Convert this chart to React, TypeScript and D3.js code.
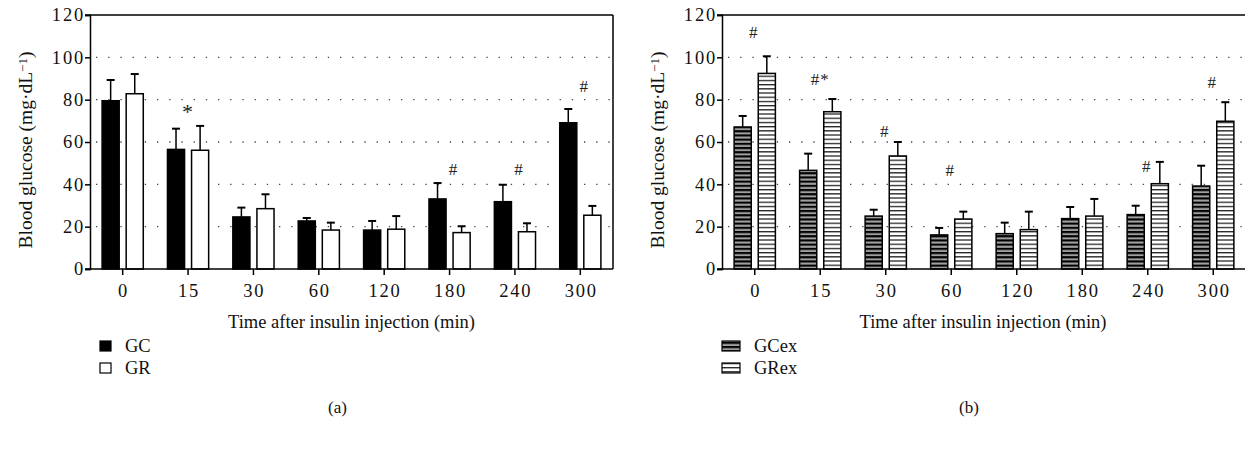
import { useRef, useEffect } from 'react'
import * as d3 from 'd3'

const times = ['0', '15', '30', '60', '120', '180', '240', '300']
const yTicks = [0, 20, 40, 60, 80, 100, 120]

// panel (a)
const gcMean = [79.5, 56.5, 24.6, 22.7, 18.4, 33.1, 31.8, 69.1]
const gcErr = [9.8, 9.8, 4.4, 1.4, 4.3, 7.5, 8.0, 6.5]
const grMean = [82.8, 56.1, 28.5, 18.4, 18.8, 17.2, 17.6, 25.4]
const grErr = [9.3, 11.5, 6.8, 3.5, 6.2, 3.0, 4.0, 4.4]
const annotA = ['15', '180', '240', '300']
const annotTextA = ['*', '#', '#', '#']
const annotLevelA = [77.5, 47.2, 47.2, 86.5]

// panel (b)
const gcexMean = [67.1, 46.6, 25.0, 16.1, 16.7, 23.8, 25.7, 39.2]
const gcexErr = [5.2, 7.9, 3.0, 3.3, 5.2, 5.5, 4.2, 9.6]
const grexMean = [92.4, 74.3, 53.4, 23.6, 18.6, 25.0, 40.3, 69.8]
const grexErr = [8.1, 6.0, 6.6, 3.5, 8.5, 8.1, 10.3, 9.0]
const annotB = ['0', '15', '30', '60', '240', '300']
const annotTextB = ['#', '#*', '#', '#', '#', '#']
const annotLevelB = [112.1, 89.8, 65.3, 46.8, 48.8, 88.5]

const FONT = "'Liberation Serif', 'Times New Roman', serif"

const drawPanel = (svg, opt) => {
  const { left, right, top, bottom, series, annCats, annText, annLevel, annDx, legend, letter } = opt
  const g = svg.append('g')
  const y = d3.scaleLinear().domain([0, 120]).range([bottom, top])
  const x0 = d3.scaleBand().domain(times).range([left, right]).paddingInner(0.37).paddingOuter(0.185)
  const x1 = d3.scaleBand().domain(series.map((s) => s.name)).range([0, x0.bandwidth()]).paddingInner(0.29)

  // dotted grid
  g.selectAll('line.grid')
    .data(yTicks.filter((t) => t > 0 && t < 120))
    .join('line')
    .attr('x1', left + 6)
    .attr('x2', right)
    .attr('y1', (d) => y(d))
    .attr('y2', (d) => y(d))
    .attr('stroke', '#444')
    .attr('stroke-width', 1.3)
    .attr('stroke-dasharray', '1.3,10.9')

  // bars
  series.forEach((s) => {
    const bg = g.append('g')
    bg.selectAll('rect')
      .data(s.mean)
      .join('rect')
      .attr('x', (d, i) => x0(times[i]) + x1(s.name))
      .attr('y', (d) => y(d))
      .attr('width', x1.bandwidth())
      .attr('height', (d) => y(0) - y(d))
      .attr('fill', s.fill)
      .attr('stroke', '#000')
      .attr('stroke-width', 1.5)
    const cx = (i) => x0(times[i]) + x1(s.name) + x1.bandwidth() / 2
    bg.selectAll('line.err')
      .data(s.mean)
      .join('line')
      .attr('x1', (d, i) => cx(i))
      .attr('x2', (d, i) => cx(i))
      .attr('y1', (d) => y(d))
      .attr('y2', (d, i) => y(d + s.err[i]))
      .attr('stroke', '#000')
      .attr('stroke-width', 1.5)
    bg.selectAll('line.cap')
      .data(s.mean)
      .join('line')
      .attr('x1', (d, i) => cx(i) - 4)
      .attr('x2', (d, i) => cx(i) + 4)
      .attr('y1', (d, i) => y(d + s.err[i]))
      .attr('y2', (d, i) => y(d + s.err[i]))
      .attr('stroke', '#000')
      .attr('stroke-width', 2)
  })

  // frame
  g.append('line').attr('x1', left - 5).attr('x2', right).attr('y1', top).attr('y2', top).attr('stroke', '#000').attr('stroke-width', 1.5)
  g.append('line').attr('x1', right).attr('x2', right).attr('y1', top).attr('y2', bottom).attr('stroke', '#000').attr('stroke-width', 1.5)

  // axes
  const yAxis = g.append('g').attr('transform', `translate(${left},0)`)
    .call(d3.axisLeft(y).tickValues(yTicks).tickSize(5).tickPadding(0))
  const xAxis = g.append('g').attr('transform', `translate(0,${bottom})`)
    .call(d3.axisBottom(x0).tickSize(6).tickPadding(9))
  ;[yAxis, xAxis].forEach((a) => {
    a.select('.domain').attr('stroke', '#000').attr('stroke-width', 1.5)
    a.selectAll('.tick line').attr('stroke', '#000').attr('stroke-width', 1.5)
    a.selectAll('text').attr('fill', '#111').style('font-family', FONT).style('font-size', '18.5px').style('letter-spacing', '1.8px')
  })
  xAxis.selectAll('text').attr('dx', '0.9')
  xAxis.select('.domain').attr('d', `M${left - 5},0H${right}`)

  // annotations
  g.selectAll('text.ann')
    .data(annCats)
    .join('text')
    .attr('x', (d, i) => x0(d) + x0.bandwidth() / 2 + (annText[i] === '#' ? annDx : 0))
    .attr('y', (d, i) => y(annLevel[i]))
    .attr('dy', (d, i) => (annText[i] === '*' ? '0.62em' : '0.35em'))
    .attr('text-anchor', 'middle')
    .style('font-family', FONT)
    .style('font-size', (d, i) => (annText[i] === '*' ? '22px' : '17px'))
    .style('letter-spacing', '1px')
    .attr('fill', '#222')
    .text((d, i) => annText[i])

  // y title
  const yt = g.append('text')
    .attr('transform', `translate(${left - 58},${(top + bottom) / 2 + 8}) rotate(-90)`)
    .attr('text-anchor', 'middle')
    .style('font-family', FONT)
    .style('font-size', '19.5px')
    .attr('fill', '#111')
  yt.append('tspan').text('Blood glucose (mg·dL')
  yt.append('tspan').attr('baseline-shift', '35%').style('font-size', '13px').text('−1')
  yt.append('tspan').text(')')

  // x title
  const mid = (left + Math.min(right, 1244)) / 2
  g.append('text')
    .attr('x', mid)
    .attr('y', 328)
    .attr('text-anchor', 'middle')
    .style('font-family', FONT)
    .style('font-size', '18.5px')
    .attr('fill', '#111')
    .text('Time after insulin injection (min)')

  // legend
  const lg = g.append('g').attr('transform', `translate(${legend.x},346)`)
  series.forEach((s, i) => {
    lg.append('rect')
      .attr('x', 0)
      .attr('y', i * 22 - 5)
      .attr('width', legend.w)
      .attr('height', 10)
      .attr('fill', s.fill)
      .attr('stroke', '#000')
      .attr('stroke-width', 1.2)
    lg.append('text')
      .attr('x', legend.w + 14)
      .attr('y', i * 22)
      .attr('dy', '0.35em')
      .style('font-family', FONT)
      .style('font-size', '18.5px')
      .attr('fill', '#111')
      .text(s.name)
  })

  g.append('text')
    .attr('x', mid - 14)
    .attr('y', 413)
    .attr('text-anchor', 'middle')
    .style('font-family', FONT)
    .style('font-size', '17px')
    .attr('fill', '#111')
    .text(letter)
}

const App = () => {
  const svgRef = useRef(null)

  useEffect(() => {
    const svg = d3.select(svgRef.current)
    svg.selectAll('*').remove()
    const defs = svg.append('defs')
    const p1 = defs.append('pattern').attr('id', 'hatchDark').attr('patternUnits', 'userSpaceOnUse').attr('width', 8).attr('height', 4.2)
    p1.append('rect').attr('width', 8).attr('height', 4.2).attr('fill', '#a0a0a0')
    p1.append('rect').attr('width', 8).attr('height', 2.1).attr('fill', '#000')
    const p2 = defs.append('pattern').attr('id', 'hatchLight').attr('patternUnits', 'userSpaceOnUse').attr('width', 8).attr('height', 4.2)
    p2.append('rect').attr('width', 8).attr('height', 4.2).attr('fill', '#fff')
    p2.append('rect').attr('width', 8).attr('height', 1.3).attr('fill', '#222')

    drawPanel(svg, {
      left: 90, right: 613, top: 15, bottom: 269,
      series: [
        { name: 'GC', mean: gcMean, err: gcErr, fill: '#000' },
        { name: 'GR', mean: grMean, err: grErr, fill: '#fff' },
      ],
      annCats: annotA, annText: annotTextA, annLevel: annotLevelA, annDx: 4,
      legend: { x: 100, w: 11 },
      letter: '(a)',
    })
    drawPanel(svg, {
      left: 722, right: 1246, top: 15, bottom: 269,
      series: [
        { name: 'GCex', mean: gcexMean, err: gcexErr, fill: 'url(#hatchDark)' },
        { name: 'GRex', mean: grexMean, err: grexErr, fill: 'url(#hatchLight)' },
      ],
      annCats: annotB, annText: annotTextB, annLevel: annotLevelB, annDx: -1,
      legend: { x: 722, w: 18 },
      letter: '(b)',
    })
  }, [])

  return (
    <svg
      ref={svgRef}
      width={1245}
      height={452}
      style={{ position: 'absolute', left: 0, top: 0, background: '#fff' }}
    ></svg>
  )
}

export default App
